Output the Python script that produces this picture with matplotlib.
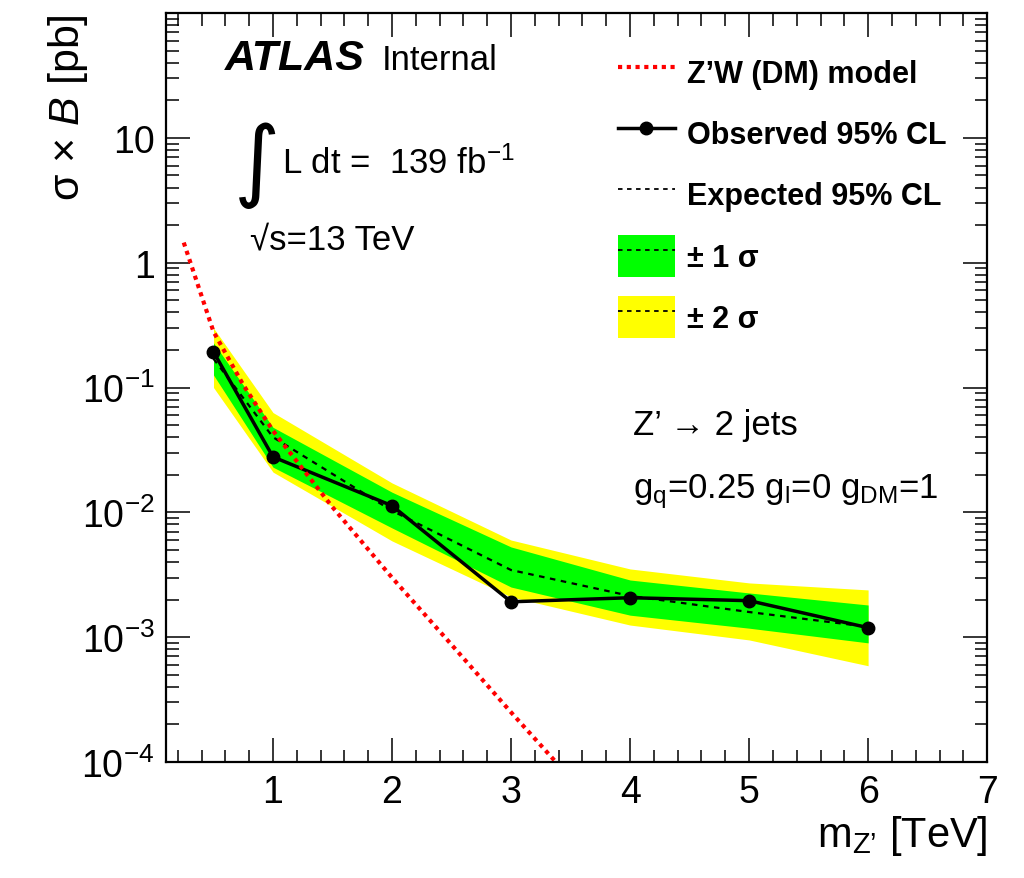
import matplotlib
matplotlib.use("Agg")
import matplotlib.pyplot as plt
from matplotlib.lines import Line2D
from matplotlib.patches import Patch
from matplotlib.ticker import FixedLocator, LogLocator, MultipleLocator, NullFormatter

plt.rcParams['font.family'] = ['Liberation Sans', 'DejaVu Sans']
plt.rcParams['mathtext.fontset'] = 'custom'
plt.rcParams['mathtext.rm'] = 'Liberation Sans'
plt.rcParams['mathtext.it'] = 'Liberation Sans:italic'
plt.rcParams['mathtext.bf'] = 'Liberation Sans:bold'

# limits
mass = [0.5, 1, 2, 3, 4, 5, 6]
observed = [0.193, 0.0278, 0.0113, 0.00192, 0.00207, 0.00196, 0.00119]
expected = [0.17, 0.040, 0.0103, 0.00345, 0.00214, 0.00159, 0.00121]
band1_lo = [0.126, 0.023, 0.0075, 0.00252, 0.0015, 0.00118, 0.00090]
band1_hi = [0.228, 0.048, 0.0145, 0.00528, 0.00287, 0.00226, 0.00181]
band2_lo = [0.100, 0.021, 0.0059, 0.0021, 0.00125, 0.00095, 0.00059]
band2_hi = [0.300, 0.063, 0.0172, 0.0060, 0.00352, 0.00272, 0.00239]

# Z'W (DM) model curve
model_mass = [0.25, 0.5, 0.75, 1.0, 1.5, 2.0, 2.5, 3.0, 3.5]
model_xs = [1.45, 0.28, 0.105, 0.045, 0.011, 0.003, 8.7e-4, 2.5e-4, 7.4e-5]

ytick_vals = [1e-4, 1e-3, 1e-2, 1e-1, 1, 10]
ytick_labels = [r'$\mathregular{10^{-4}}$', r'$\mathregular{10^{-3}}$', r'$\mathregular{10^{-2}}$',
                r'$\mathregular{10^{-1}}$', '1', '10']

fig = plt.figure(figsize=(10.24, 8.79), dpi=100)
ax = fig.add_axes([0.162, 0.132, 0.802, 0.852])

ax.fill_between(mass, band2_lo, band2_hi, color='#ffff00', lw=0)
ax.fill_between(mass, band1_lo, band1_hi, color='#00ff00', lw=0)
ax.plot(mass, expected, color='black', lw=1.6, dashes=(2.5, 2.5))
ax.plot(mass, observed, color='black', lw=2.5, marker='o', ms=9)
ax.plot(model_mass, model_xs, color='red', lw=3, dashes=(1, 1.1))

ax.set_yscale('log')
ax.set_xlim(0.1, 7)
ax.set_ylim(1e-4, 100)

ax.xaxis.set_major_locator(MultipleLocator(1))
ax.xaxis.set_minor_locator(MultipleLocator(0.2))
ax.yaxis.set_major_locator(FixedLocator(ytick_vals))
ax.set_yticklabels(ytick_labels)
ax.yaxis.set_minor_locator(LogLocator(base=10, subs=range(2, 10)))
ax.yaxis.set_minor_formatter(NullFormatter())

ax.tick_params(which='both', direction='in', top=True, right=True, width=1.1, labelsize=27)
ax.tick_params(which='major', length=17)
ax.tick_params(which='minor', length=9)
ax.tick_params(axis='x', pad=9)
ax.tick_params(axis='y', pad=8)
for s in ax.spines.values():
    s.set_linewidth(1.6)

ax.set_xlabel('m$_{\\mathregular{Z’}}$ [TeV]', fontsize=30, loc='right')
ax.xaxis.set_label_coords(1.0, -0.068)
ax.set_ylabel(r'σ × $B$ [pb]', fontsize=31, loc='top')
ax.yaxis.set_label_coords(-0.092, 1.0)

# labels inside the frame
ax.text(0.072, 0.925, 'ATLAS', transform=ax.transAxes, fontsize=31, fontweight='bold', fontstyle='italic')
ax.text(0.263, 0.925, 'Internal', transform=ax.transAxes, fontsize=25)
ax.text(0.083, 0.765, '∫', transform=ax.transAxes, fontsize=64, family='DejaVu Sans')
ax.text(0.141, 0.787, 'L dt =  139 fb$^{\\mathregular{-1}}$', transform=ax.transAxes, fontsize=25)
ax.text(0.102, 0.686, '√s=13 TeV', transform=ax.transAxes, fontsize=25)
ax.text(0.569, 0.438, 'Z’ → 2 jets', transform=ax.transAxes, fontsize=25)
ax.text(0.569, 0.353, r'g$_\mathregular{q}$=0.25 g$_\mathregular{l}$=0 g$_\mathregular{DM}$=1',
        transform=ax.transAxes, fontsize=25)

handles = [
    Line2D([], [], color='red', lw=3, dashes=(1, 1.1)),
    Line2D([], [], color='black', lw=2.5, marker='o', ms=9),
    Line2D([], [], color='black', lw=1.3, dashes=(2.5, 2.5)),
    (Patch(facecolor='#00ff00', lw=0), Line2D([], [], color='black', lw=1.3, dashes=(2.5, 2.5))),
    (Patch(facecolor='#ffff00', lw=0), Line2D([], [], color='black', lw=1.3, dashes=(2.5, 2.5))),
]
labels = ['Z’W (DM) model', 'Observed 95% CL', 'Expected 95% CL', '± 1 σ', '± 2 σ']
fig.legend(handles, labels, loc='upper left', bbox_to_anchor=(618 / 1024, 1 - 52 / 879),
           frameon=False, borderpad=0, borderaxespad=0, handlelength=1.85, handleheight=1.75,
           handletextpad=0.4, labelspacing=0.62, prop={'weight': 'bold', 'size': 22})

fig.savefig('out.png', dpi=100)
